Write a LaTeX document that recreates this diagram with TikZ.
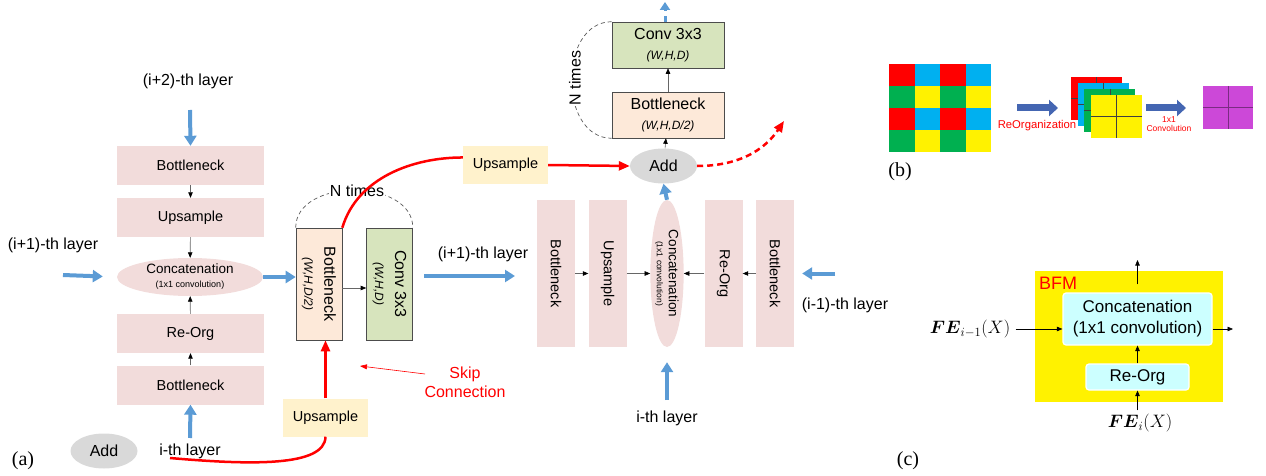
\RequirePackage{fix-cm}
\documentclass[tikz,border=0pt]{standalone}
\usepackage{amsmath}
\usepackage{fontspec}
\setmainfont{Liberation Sans}
\newfontfamily\serifrm{Liberation Serif}
\usetikzlibrary{arrows.meta,shapes.geometric}

\definecolor{pinkfill}{RGB}{242,220,219}
\definecolor{peachfill}{RGB}{253,233,217}
\definecolor{convfill}{RGB}{215,228,189}
\definecolor{upfill}{RGB}{255,242,204}
\definecolor{addfill}{RGB}{217,217,217}
\definecolor{arrowblue}{RGB}{91,155,213}
\definecolor{reorgblue}{RGB}{68,102,178}
\definecolor{cellcyan}{RGB}{0,176,240}
\definecolor{cellgreen}{RGB}{0,176,80}
\definecolor{cellpurple}{RGB}{204,72,216}
\definecolor{bfmcyan}{RGB}{204,255,255}

\tikzset{
  pinkbox/.style={fill=pinkfill, inner sep=0pt, align=center, font=\fontsize{14.5}{16}\selectfont},
  hbox/.style={pinkbox, minimum width=147pt, minimum height=39pt},
  vbox/.style={pinkbox, rotate=-90, minimum width=147pt, minimum height=38pt},
  layerlbl/.style={font=\fontsize{16}{18}\selectfont},
  blue arrow/.style={draw=arrowblue, line width=4pt, -{Triangle[length=10pt,width=12pt,color=arrowblue]}},
  small arrow/.style={draw=gray!80!black, line width=0.6pt, -{Triangle[length=5.5pt,width=4.5pt,color=black]}},
  red arrow/.style={draw=red, line width=2.5pt, -{Triangle[length=11pt,width=9pt,color=red]}},
  times arc/.style={draw=gray!70!black, line width=0.7pt, dash pattern=on 4pt off 3pt},
  upbox/.style={fill=upfill, minimum width=85pt, minimum height=38pt, inner sep=0pt, font=\fontsize{14.5}{16}\selectfont},
  stagebox/.style={draw=gray!60!black, line width=0.6pt, minimum width=112pt, minimum height=46pt, inner sep=0pt, align=center, font=\fontsize{16}{20}\selectfont},
  addnode/.style={ellipse, fill=addfill, minimum width=67pt, minimum height=35pt, inner sep=0pt, font=\fontsize{16}{18}\selectfont},
  bfmbox/.style={fill=bfmcyan, draw=white, line width=1.2pt, rounded corners=3pt, inner sep=0pt, align=center, font=\fontsize{17}{21}\selectfont},
  panel/.style={font=\serifrm\fontsize{20}{22}\selectfont},
}

\begin{document}
\begin{tikzpicture}[x=1pt,y=-1pt]
  \useasboundingbox (0,0) rectangle (1266,476);

  % ---- (a) left column
  \node[layerlbl] (lbltwo) at (188,81) {(i+2)-th layer};
  \coordinate (intwo) at (190,110);
  \node[hbox] (topbn) at (190.5,165.5) {Bottleneck};
  \node[hbox] (upL) at (190.5,217.5) {Upsample};
  \node[ellipse, fill=pinkfill, minimum width=146pt, minimum height=38pt, inner sep=0pt, align=center,
        font=\fontsize{13.5}{15}\selectfont] (concatL) at (190,277)
        {Concatenation\\[-1pt]{\fontsize{9}{10}\selectfont (1x1 convolution)}};
  \node[hbox] (reorgL) at (190.5,333.5) {Re-Org};
  \node[hbox] (botbn) at (190.5,385) {Bottleneck};
  \node[layerlbl] (lblith) at (190,451) {i-th layer};
  \coordinate (inith) at (190,438);
  \node[layerlbl] (lblone) at (53,245) {(i+1)-th layer};
  \coordinate (inone) at (63,275);
  \node[addnode] (addL) at (104,451) {Add};
  \node[panel] at (23,461) {(a)};

  \draw[blue arrow] (intwo) -- (topbn.north);
  \draw[small arrow] (topbn) -- (upL);
  \draw[small arrow] (upL) -- (concatL);
  \draw[small arrow] (reorgL) -- (concatL);
  \draw[small arrow] (botbn) -- (reorgL);
  \draw[blue arrow] (inith) -- (botbn.south);
  \draw[blue arrow, shorten >=14pt] (inone) -- (concatL.west);

  % ---- (a) middle: N times block (rotated: .north = right side, .south = left side)
  \node[stagebox, fill=peachfill, rotate=-90] (midbn) at (319,284)
        {Bottleneck\\{\itshape\fontsize{12}{14}\selectfont (W,H,D/2)}};
  \node[stagebox, fill=convfill, rotate=-90] (midconv) at (389.5,284)
        {Conv 3x3\\{\itshape\fontsize{12}{14}\selectfont (W,H,D)}};
  \draw[blue arrow] (concatL.east) -- (concatL.east -| midbn.south);
  \draw[small arrow] ([yshift=-4pt]midbn.north) -- ([yshift=-4pt]midconv.south);
  \draw[times arc] (midbn.south west) .. controls +(0,-50) and +(0,-50) .. (midconv.north west);
  \node[fill=white, inner sep=1pt, font=\fontsize{16}{18}\selectfont] (ntimesA) at (357,191) {N times};

  \node[upbox] (upB) at (325.5,417.5) {Upsample};
  \node[upbox] (upT) at (505.5,165) {Upsample};
  \coordinate (redstart) at (170,458);
  \draw[red, line width=2.5pt] (redstart) .. controls (250,465) and (325,467) .. (upB.south);
  \draw[red arrow] (upB.north) -- (upB.north |- midbn.east);
  \draw[red, line width=2.5pt] (midbn.north west) .. controls +(15,-50) and +(-50,0) .. (upT.170);

  \node[red, align=center, font=\fontsize{16}{19}\selectfont] (skip) at (465,382) {Skip\\Connection};
  \coordinate (skipA) at (425,374);
  \coordinate (skipB) at (360,366);
  \draw[red, line width=0.6pt, -{Triangle[length=7pt,width=5pt]}] (skipA) -- (skipB);

  \node[layerlbl] (lblmid) at (483,254) {(i+1)-th layer};
  \coordinate (midA) at (424,276);
  \coordinate (midB) at (515,276);
  \draw[blue arrow] (midA) -- (midB);

  % ---- (a) top stack
  \node[addnode] (addT) at (663.5,166) {Add};
  \node[stagebox, fill=peachfill] (bnT) at (668,115)
        {Bottleneck\\{\itshape\fontsize{12}{14}\selectfont (W,H,D/2)}};
  \node[stagebox, fill=convfill] (convT) at (668,45)
        {Conv 3x3\\{\itshape\fontsize{12}{14}\selectfont (W,H,D)}};
  \draw[small arrow] (addT) -- (bnT);
  \draw[small arrow] (bnT) -- (convT);
  \coordinate (outtop) at (665,2);
  \draw[draw=arrowblue, line width=3pt, dash pattern=on 6pt off 5pt, -{Triangle[length=8pt,width=10pt,color=arrowblue]}]
        (convT.north -| outtop) -- (outtop);
  \draw[times arc] (convT.north west) .. controls (558,22) and (558,138) .. (bnT.south west);
  \node[fill=white, inner sep=1pt, rotate=90, font=\fontsize{16}{18}\selectfont] (ntimesB) at (575,78) {N times};
  \draw[red arrow] (upT.east) -- (addT.west);
  \coordinate (redtip) at (784,121);
  \draw[red, line width=2.5pt, dash pattern=on 6pt off 4pt, -{Triangle[length=11pt,width=9pt,color=red]}]
        (addT.east) .. controls (745,166) and (768,145) .. (redtip);

  % ---- (a) right row (rotated: .north = right side, .south = left side)
  \node[vbox] (rbone) at (556,273.5) {Bottleneck};
  \node[vbox] (rbtwo) at (607.5,273.5) {Upsample};
  \node[ellipse, rotate=-90, fill=pinkfill, minimum width=147pt, minimum height=32pt, inner sep=0pt, align=center,
        font=\fontsize{13.5}{15}\selectfont] (concatR) at (667,273.5)
        {Concatenation\\[-3pt]{\fontsize{8.5}{9}\selectfont (1x1 convolution)}};
  \node[vbox] (rbthree) at (723.5,273.5) {Re-Org};
  \node[vbox] (rbfour) at (775,273.5) {Bottleneck};
  \draw[small arrow] (rbone.north) -- (rbtwo.south);
  \draw[small arrow] (rbtwo.north) -- (concatR.south);
  \draw[small arrow] (rbthree.south) -- (concatR.north);
  \draw[small arrow] (rbfour.south) -- (rbthree.north);
  \draw[blue arrow] (concatR.west) -- (addT.south);
  \coordinate (inprev) at (835,273.5);
  \draw[blue arrow, shorten >=8pt] (inprev) -- (rbfour.north);
  \node[layerlbl] (lblprev) at (845,305) {(i-1)-th layer};
  \coordinate (inithR) at (667,400);
  \draw[blue arrow, shorten >=15pt] (inithR) -- (concatR.east);
  \node[layerlbl] (lblithR) at (667,418) {i-th layer};

  % ---- (b) reorganization
  \foreach \r/\ca/\cb in {0/red/cellcyan,1/cellgreen/yellow,2/red/cellcyan,3/cellgreen/yellow}
    \foreach \c in {0,2} {
      \fill[\ca] ({889+25.5*\c},{64+22*\r}) rectangle ++(25.5,22);
      \fill[\cb] ({889+25.5*(\c+1)},{64+22*\r}) rectangle ++(25.5,22);
    }
  \coordinate (reA) at (1017,108);
  \coordinate (reB) at (1058,108);
  \draw[draw=reorgblue, line width=7pt, -{Triangle[length=9pt,width=16pt,color=reorgblue]}] (reA) -- (reB);
  \node[red, font=\fontsize{11.3}{13}\selectfont] (reorglbl) at (1037,126) {ReOrganization};
  \foreach \col [count=\k from 0] in {red,cellcyan,cellgreen,yellow} {
    \fill[\col] ({1071+6.7*\k},{77+6*\k}) rectangle ++(51,43);
    \draw[black!75, line width=0.6pt] ({1071+6.7*\k+25.5},{77+6*\k}) -- ++(0,43);
    \draw[black!75, line width=0.6pt] ({1071+6.7*\k},{77+6*\k+21.5}) -- ++(51,0);
  }
  \coordinate (cvA) at (1146,108);
  \coordinate (cvB) at (1186,108);
  \draw[draw=reorgblue, line width=7pt, -{Triangle[length=9pt,width=16pt,color=reorgblue]}] (cvA) -- (cvB);
  \node[red, align=center, font=\fontsize{8.5}{9}\selectfont] (convlbl) at (1169,124.5) {1x1\\Convolution};
  \fill[cellpurple] (1203,86) rectangle (1253,129);
  \draw[cellpurple!60!black, line width=0.8pt] (1228,86) -- (1228,129);
  \draw[cellpurple!60!black, line width=0.8pt] (1203,107.5) -- (1253,107.5);
  \node[panel] at (900,172) {(b)};

  % ---- (c) BFM
  \node[fill=yellow, minimum width=188pt, minimum height=131pt, inner sep=0pt] (bfm) at (1129,336.5) {};
  \node[red, font=\fontsize{18}{20}\selectfont] (bfmlbl) at (1058,283) {BFM};
  \node[bfmbox, minimum width=149pt, minimum height=52pt] (concatC) at (1137.5,319)
        {Concatenation\\(1x1 convolution)};
  \node[bfmbox, minimum width=103pt, minimum height=26pt] (reorgC) at (1137.5,377) {Re-Org};
  \node[font=\fontsize{18}{20}\selectfont] (feprev) at (970,329) {$\boldsymbol{FE}_{i-1}(X)$};
  \node[font=\fontsize{18}{20}\selectfont] (feith) at (1140,423) {$\boldsymbol{FE}_{i}(X)$};
  \coordinate (outR) at (1233,329);
  \coordinate (outU) at (1137.5,260);
  \draw[small arrow, draw=black] (reorgC) -- (concatC);
  \draw[small arrow, draw=black] (feith.north -| reorgC) -- (reorgC);
  \draw[small arrow, draw=black, shorten <=2pt] (feprev.east) -- (feprev.east -| concatC.west);
  \draw[small arrow, draw=black] (concatC.east |- outR) -- (outR);
  \draw[small arrow, draw=black, shorten <=8pt] (concatC.north) -- (outU);
  \node[panel] at (908,461) {(c)};
\end{tikzpicture}
\end{document}
